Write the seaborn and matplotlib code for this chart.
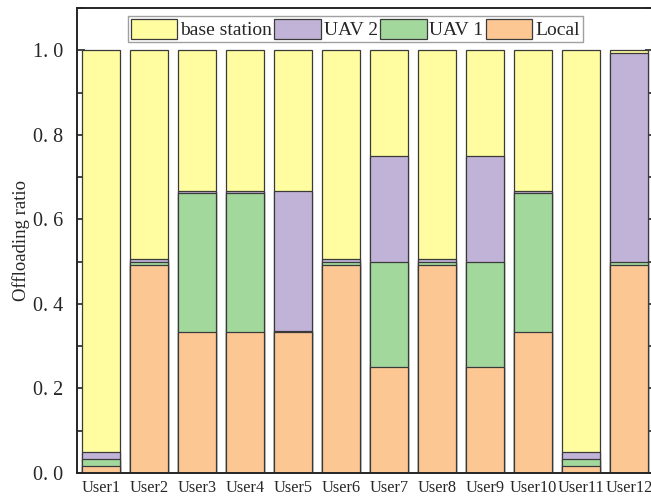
import numpy as np
import pandas as pd
import matplotlib
matplotlib.use("Agg")
import matplotlib.pyplot as plt
from matplotlib.ticker import MultipleLocator, FuncFormatter
import seaborn as sns

users = ["User1", "User2", "User3", "User4", "User5", "User6",
         "User7", "User8", "User9", "User10", "User11", "User12"]
local = [0.017, 0.493, 0.333, 0.333, 0.333, 0.493, 0.25, 0.493, 0.25, 0.333, 0.017, 0.493]
uav1 = [0.016, 0.007, 0.330, 0.330, 0.004, 0.007, 0.25, 0.007, 0.25, 0.330, 0.016, 0.007]
uav2 = [0.017, 0.007, 0.004, 0.004, 0.330, 0.007, 0.25, 0.007, 0.25, 0.004, 0.017, 0.493]
base_station = [0.950, 0.493, 0.333, 0.333, 0.333, 0.493, 0.25, 0.493, 0.25, 0.333, 0.950, 0.007]

series = ["base station", "UAV 2", "UAV 1", "Local"]
colors = {"base station": "#FFFD9F", "UAV 2": "#C1B3D7",
          "UAV 1": "#A2D89C", "Local": "#FDC794"}

sns.set_style("ticks")
plt.rcParams["font.family"] = ["Liberation Serif", "DejaVu Serif"]

df = pd.DataFrame({"user": users, "Local": local, "UAV 1": uav1,
                   "UAV 2": uav2, "base station": base_station})
# cumulative heights, stacked from the bottom: Local, UAV 1, UAV 2, base station
df["c_local"] = df["Local"]
df["c_uav1"] = df["c_local"] + df["UAV 1"]
df["c_uav2"] = df["c_uav1"] + df["UAV 2"]
df["c_base"] = df["c_uav2"] + df["base station"]

fig = plt.figure(figsize=(6.51, 4.98), dpi=100)
ax = fig.add_axes([77 / 651, 1 - 473 / 498, 576 / 651, 465 / 498])

layers = [("c_base", "base station"), ("c_uav2", "UAV 2"),
          ("c_uav1", "UAV 1"), ("c_local", "Local")]
for col, name in layers:
    sns.barplot(data=df, x="user", y=col, color=colors[name], saturation=1,
                width=0.8, edgecolor="#3a3a3a", linewidth=0.9, ax=ax,
                label=name, errorbar=None)

ax.set_xlim(-0.5, len(users) - 0.5)
ax.set_ylim(0, 1.1)
ax.set_xlabel("")
ax.set_ylabel("Offloading ratio", fontsize=13.5, labelpad=2)
ax.yaxis.set_major_locator(MultipleLocator(0.2))
ax.yaxis.set_minor_locator(MultipleLocator(0.1))
ax.yaxis.set_major_formatter(FuncFormatter(lambda v, p: f"{v:.1f}".replace(".", ". ")))
ax.tick_params(axis="both", which="both", direction="in", width=1.2)
ax.tick_params(axis="y", which="both", length=6, right=True, labelsize=14.5, pad=10)
ax.tick_params(axis="x", length=6, labelsize=11.8, pad=5)
for s in ax.spines.values():
    s.set_linewidth(1.4)
    s.set_visible(True)

handles, labels = ax.get_legend_handles_labels()
leg = ax.legend(handles, labels, loc="upper center", ncol=4,
                bbox_to_anchor=(0.483, 1 - 8 / 465), fontsize=14,
                frameon=True, fancybox=False, handlelength=2.4,
                handleheight=1.2, handletextpad=0.15, columnspacing=0.1,
                borderpad=0.15, borderaxespad=0)
leg.get_frame().set_edgecolor("#888888")
leg.get_frame().set_linewidth(1.0)

fig.savefig("out.png", dpi=100)
